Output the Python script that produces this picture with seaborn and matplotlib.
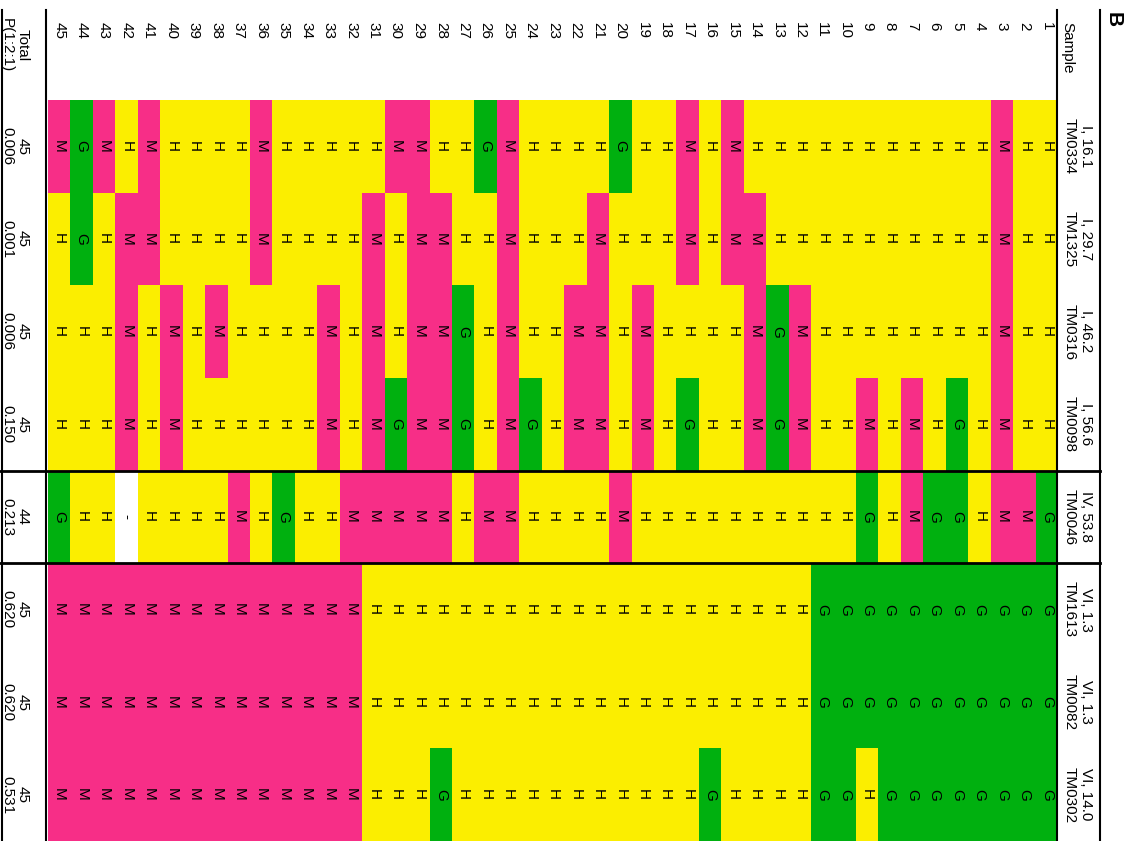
import numpy as np
import pandas as pd
import matplotlib
matplotlib.use('Agg')
import matplotlib.pyplot as plt
import matplotlib.transforms as mtransforms
from matplotlib.colors import ListedColormap
import seaborn as sns

# genotype table (samples 1..45, left to right in each string)
samples = list(range(1, 46))
markers = ['TM0334', 'TM1325', 'TM0316', 'TM0098', 'TM0046', 'TM1613', 'TM0082', 'TM0302']
positions = ['I, 16.1', 'I, 29.7', 'I, 46.2', 'I, 56.6', 'IV, 53.8', 'VI, 1.3', 'VI, 1.3', 'VI, 14.0']

tm0334 = 'HHMHHHHHHH' 'HHHHMHMHHG' 'HHHHMGHHMM' 'HHHHHMHHHH' 'MHMGM'
tm1325 = 'HHMHHHHHHH' 'HHHMMHMHHH' 'MHHHMHHMMH' 'MHHHHMHHHH' 'MMHGH'
tm0316 = 'HHMHHHHHHH' 'HMGMHHHHMH' 'MMHHMHGMMH' 'MHMHHHHMHM' 'HMHHH'
tm0098 = 'HHMHGHMHMH' 'HMGMHHGHMH' 'MMHGMHGMMG' 'MHMHHHHHHM' 'HMHHH'
tm0046 = 'GMMHGGMHGH' 'HHHHHHHHHM' 'HHHHMMHMMM' 'MMHHGHMHHH' 'H-HHG'
tm1613 = 'GGGGGGGGGG' 'GHHHHHHHHH' 'HHHHHHHHHH' 'HMMMMMMMMM' 'MMMMM'
tm0082 = 'GGGGGGGGGG' 'GHHHHHHHHH' 'HHHHHHHHHH' 'HMMMMMMMMM' 'MMMMM'
tm0302 = 'GGGGGGGGHG' 'GHHHHGHHHH' 'HHHHHHHGHH' 'HMMMMMMMMM' 'MMMMM'
genotypes = [tm0334, tm1325, tm0316, tm0098, tm0046, tm1613, tm0082, tm0302]

totals = [45, 45, 45, 45, 44, 45, 45, 45]
p_values = ['0.006', '0.001', '0.006', '0.150', '0.213', '0.620', '0.620', '0.531']

code = {'M': 0, 'H': 1, 'G': 2, '-': 3}
colors = ['#F72E87', '#FBEE00', '#00B00F', '#FFFFFF']

letters = pd.DataFrame([list(g) for g in genotypes], index=markers, columns=samples)
letters = letters[samples[::-1]]          # sample 45 on the left, 1 on the right
codes = letters.apply(lambda col: col.map(code)).astype(float)

plt.rcParams['font.family'] = ['Liberation Sans', 'DejaVu Sans']

W, H = 1139, 841
fig = plt.figure(figsize=(W / 100, H / 100), dpi=100)
ax = fig.add_axes([48 / W, 0, 1010 / W, 741 / H])

sns.heatmap(codes, ax=ax, cmap=ListedColormap(colors), vmin=-0.5, vmax=3.5,
            cbar=False, annot=letters.values, fmt='', linewidths=0,
            annot_kws=dict(rotation=-90, color='black', fontsize=11),
            xticklabels=False, yticklabels=False)

top = mtransforms.blended_transform_factory(ax.transData, fig.transFigure)
side = mtransforms.blended_transform_factory(fig.transFigure, ax.transData)

# sample numbers along the top
for i, s in enumerate(letters.columns):
    ax.text(i + 0.5, 1 - 22 / H, str(s), transform=top, rotation=-90,
            ha='center', va='top', fontsize=11)

# marker labels on the right, totals / P on the left
for i, (m, p) in enumerate(zip(markers, positions)):
    ax.text(1078 / W, i + 0.5, f'{p}\n{m}', transform=side, rotation=-90,
            ha='center', va='center', multialignment='center', fontsize=11,
            clip_on=False)
for i, (t, pv) in enumerate(zip(totals, p_values)):
    ax.text(15 / W, i + 0.5, f'{t}\n{pv}', transform=side, rotation=-90,
            ha='center', va='center', multialignment='center', fontsize=11,
            clip_on=False)

fig.text(1067 / W, 1 - 22 / H, 'Sample', rotation=-90, ha='center', va='top', fontsize=11)
fig.text(15 / W, 1 - 45 / H, 'Total\nP(1:2:1)', rotation=-90, ha='center', va='center',
         multialignment='center', fontsize=11)
fig.text(1113 / W, 1 - 12 / H, 'B', rotation=-90, ha='center', va='top',
         fontsize=15, fontweight='bold')

# table rules
for x in [2, 46, 1057, 1100]:
    fig.add_artist(plt.Line2D([x / W, x / W], [0, 1 - 10 / H], transform=fig.transFigure,
                              color='black', lw=1.5))
for y in [4, 5]:
    ax.plot([0, 1100 / W], [y, y], transform=side, color='black', lw=2, clip_on=False)

fig.savefig('out.png', dpi=100)
